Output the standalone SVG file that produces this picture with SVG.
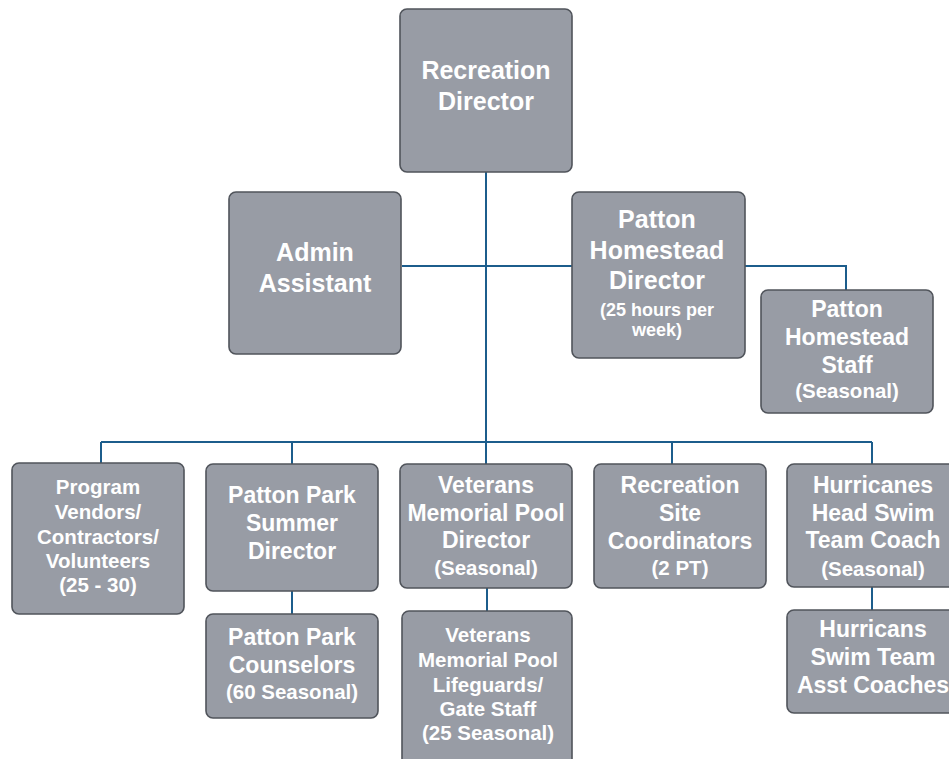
<svg xmlns="http://www.w3.org/2000/svg" width="949" height="759" viewBox="0 0 949 759">
  <style>
    .box { fill: #989ca5; stroke: #50545b; stroke-width: 1.6; }
    .wire { fill: none; stroke: #1c5d8c; stroke-width: 2; }
    text { font-family: "Liberation Sans", Arial, sans-serif; font-weight: bold; fill: #ffffff; text-anchor: middle; }
    .t25 { font-size: 25px; }
    .t23 { font-size: 23px; }
    .t20 { font-size: 20.5px; }
    .t18 { font-size: 18px; }
  </style>
  <rect width="949" height="759" fill="#ffffff"/>

  <!-- reporting lines -->
  <g id="connectors">
    <path class="wire" d="M486 172 V442"/>
    <path class="wire" d="M402 266 H572"/>
    <path class="wire" d="M745 266 H846 V290"/>
    <path class="wire" d="M101 442 H872"/>
    <path class="wire" d="M101 442 V463"/>
    <path class="wire" d="M292 442 V464"/>
    <path class="wire" d="M486 442 V464"/>
    <path class="wire" d="M672 442 V464"/>
    <path class="wire" d="M872 442 V464"/>
    <path class="wire" d="M292 591 V614"/>
    <path class="wire" d="M487 588 V611"/>
    <path class="wire" d="M872 587 V610"/>
  </g>

  <g id="recreation-director">
    <rect class="box" x="400" y="9" width="172" height="163" rx="7"/>
    <text class="t25" x="486" y="79">Recreation</text>
    <text class="t25" x="486" y="110">Director</text>
  </g>

  <g id="admin-assistant">
    <rect class="box" x="229" y="192" width="172" height="162" rx="7"/>
    <text class="t25" x="315" y="261">Admin</text>
    <text class="t25" x="315" y="292">Assistant</text>
  </g>

  <g id="patton-homestead-director">
    <rect class="box" x="572" y="192" width="173" height="166" rx="7"/>
    <text class="t25" x="657" y="228">Patton</text>
    <text class="t25" x="657" y="259">Homestead</text>
    <text class="t25" x="657" y="289">Director</text>
    <text class="t18" x="657" y="316">(25 hours per</text>
    <text class="t18" x="657" y="336">week)</text>
  </g>

  <g id="patton-homestead-staff">
    <rect class="box" x="761" y="290" width="172" height="123" rx="7"/>
    <text class="t23" x="847" y="317">Patton</text>
    <text class="t23" x="847" y="345">Homestead</text>
    <text class="t23" x="847" y="373">Staff</text>
    <text class="t20" x="847" y="398">(Seasonal)</text>
  </g>

  <g id="program-vendors">
    <rect class="box" x="12" y="463" width="172" height="151" rx="7"/>
    <text class="t20" x="98" y="494">Program</text>
    <text class="t20" x="98" y="519">Vendors/</text>
    <text class="t20" x="98" y="544">Contractors/</text>
    <text class="t20" x="98" y="568">Volunteers</text>
    <text class="t20" x="98" y="592">(25 - 30)</text>
  </g>

  <g id="patton-park-summer-director">
    <rect class="box" x="206" y="464" width="172" height="127" rx="7"/>
    <text class="t23" x="292" y="503">Patton Park</text>
    <text class="t23" x="292" y="531">Summer</text>
    <text class="t23" x="292" y="559">Director</text>
  </g>

  <g id="patton-park-counselors">
    <rect class="box" x="206" y="614" width="172" height="104" rx="7"/>
    <text class="t23" x="292" y="645">Patton Park</text>
    <text class="t23" x="292" y="673">Counselors</text>
    <text class="t20" x="292" y="699">(60 Seasonal)</text>
  </g>

  <g id="veterans-pool-director">
    <rect class="box" x="400" y="464" width="172" height="124" rx="7"/>
    <text class="t23" x="486" y="493">Veterans</text>
    <text class="t23" x="486" y="521">Memorial Pool</text>
    <text class="t23" x="486" y="548">Director</text>
    <text class="t20" x="486" y="575">(Seasonal)</text>
  </g>

  <g id="veterans-pool-lifeguards">
    <rect class="box" x="402" y="611" width="170" height="160" rx="7"/>
    <text class="t20" x="488" y="642">Veterans</text>
    <text class="t20" x="488" y="667">Memorial Pool</text>
    <text class="t20" x="488" y="692">Lifeguards/</text>
    <text class="t20" x="488" y="716">Gate Staff</text>
    <text class="t20" x="488" y="740">(25 Seasonal)</text>
  </g>

  <g id="recreation-site-coordinators">
    <rect class="box" x="594" y="464" width="172" height="124" rx="7"/>
    <text class="t23" x="680" y="493">Recreation</text>
    <text class="t23" x="680" y="521">Site</text>
    <text class="t23" x="680" y="549">Coordinators</text>
    <text class="t20" x="680" y="575">(2 PT)</text>
  </g>

  <g id="hurricanes-head-coach">
    <rect class="box" x="787" y="464" width="172" height="123" rx="7"/>
    <text class="t23" x="873" y="493">Hurricanes</text>
    <text class="t23" x="873" y="521">Head Swim</text>
    <text class="t23" x="873" y="548">Team Coach</text>
    <text class="t20" x="873" y="576">(Seasonal)</text>
  </g>

  <g id="hurricanes-asst-coaches">
    <rect class="box" x="787" y="610" width="172" height="103" rx="7"/>
    <text class="t23" x="873" y="637">Hurricans</text>
    <text class="t23" x="873" y="665">Swim Team</text>
    <text class="t23" x="873" y="693">Asst Coaches</text>
  </g>
</svg>
